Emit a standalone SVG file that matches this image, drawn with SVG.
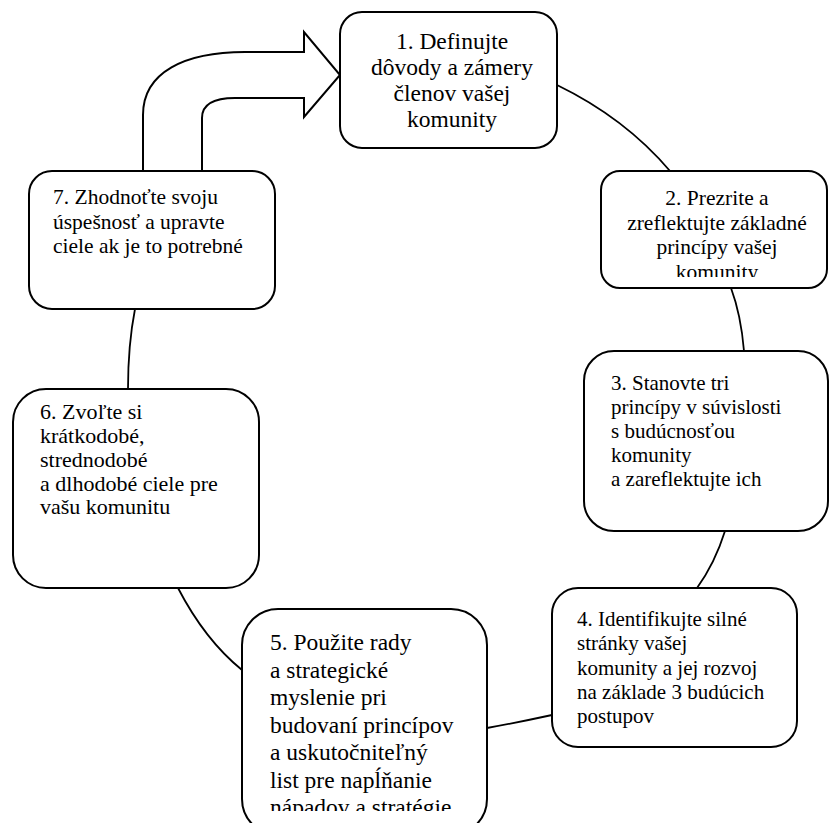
<svg xmlns="http://www.w3.org/2000/svg" width="830" height="823" viewBox="0 0 830 823">
<defs>
<style>
.box{fill:#fff;stroke:#000;stroke-width:2}
.con{fill:none;stroke:#000;stroke-width:1.8}
.t{font-family:"Liberation Serif","Times New Roman",serif;fill:#000;font-size:21px}
.c{text-anchor:middle}
</style>
<clipPath id="clip2"><rect x="600" y="170" width="230" height="107"/></clipPath>
<clipPath id="clip5"><rect x="240" y="608" width="250" height="203"/></clipPath>
</defs>
<rect width="830" height="823" fill="#fff"/>
<g id="connectors">
<path class="con" d="M557,85 Q625,118 670,171"/>
<path class="con" d="M731,288 Q741,315 744,351"/>
<path class="con" d="M725,531 Q715,563 697,588"/>
<path class="con" d="M552,715 Q520,722 487,728"/>
<path class="con" d="M178,588 Q205,640 242,670"/>
<path class="con" d="M135,309 Q128,345 128,389"/>
<path id="return-arrow" d="M143,171 L143,115 C143,72 185,52 245,52 L304,52 L304,32 L340,75 L304,117 L304,98 L235,98 C212,98 202,105 202,118 L202,171" fill="#fff" stroke="#000" stroke-width="2" stroke-linejoin="miter"/>
</g>
<g id="node1">
<rect class="box" x="340" y="12" width="217" height="136" rx="22" ry="22"/>
<text class="t c" style="font-size:23.5px"><tspan x="452" y="49">1. Definujte</tspan><tspan x="452" y="75">dôvody a zámery</tspan><tspan x="452" y="101">členov vašej</tspan><tspan x="452" y="127">komunity</tspan></text>
</g>
<g id="node2">
<rect class="box" x="601" y="171" width="226" height="117" rx="19" ry="19"/>
<g clip-path="url(#clip2)">
<text class="t c" style="font-size:21.5px"><tspan x="717" y="205">2. Prezrite a</tspan><tspan x="717" y="229.5">zreflektujte základné</tspan><tspan x="717" y="254">princípy vašej</tspan><tspan x="717" y="278.5">komunity</tspan></text>
</g>
</g>
<g id="node3">
<rect class="box" x="584" y="351" width="244" height="180" rx="30" ry="30"/>
<text class="t"><tspan x="611" y="390">3. Stanovte tri</tspan><tspan x="611" y="414">princípy v súvislosti</tspan><tspan x="611" y="438">s budúcnosťou</tspan><tspan x="611" y="462">komunity</tspan><tspan x="611" y="486">a zareflektujte ich</tspan></text>
</g>
<g id="node4">
<rect class="box" x="552" y="588" width="245" height="159" rx="26" ry="26"/>
<text class="t"><tspan x="577" y="626">4. Identifikujte silné</tspan><tspan x="577" y="650">stránky vašej</tspan><tspan x="577" y="674.5">komunity a jej rozvoj</tspan><tspan x="577" y="699">na základe 3 budúcich</tspan><tspan x="577" y="723">postupov</tspan></text>
</g>
<g id="node5">
<rect class="box" x="242" y="609" width="245" height="226" rx="36" ry="36"/>
<g clip-path="url(#clip5)">
<text class="t" style="font-size:23.5px"><tspan x="270" y="650">5. Použite rady</tspan><tspan x="270" y="677.5">a strategické</tspan><tspan x="270" y="705">myslenie pri</tspan><tspan x="270" y="732.5">budovaní princípov</tspan><tspan x="270" y="760">a uskutočniteľný</tspan><tspan x="270" y="787.5">list pre napĺňanie</tspan><tspan x="270" y="815">nápadov a stratégie</tspan></text>
</g>
</g>
<g id="node6">
<rect class="box" x="13" y="389" width="246" height="199" rx="33" ry="33"/>
<text class="t" style="font-size:22px"><tspan x="40" y="419">6. Zvoľte si</tspan><tspan x="40" y="443">krátkodobé,</tspan><tspan x="40" y="467">strednodobé</tspan><tspan x="40" y="491">a dlhodobé ciele pre</tspan><tspan x="40" y="514">vašu komunitu</tspan></text>
</g>
<g id="node7">
<rect class="box" x="29" y="171" width="246" height="138" rx="23" ry="23"/>
<text class="t" style="font-size:21.5px"><tspan x="53" y="204">7. Zhodnoťte svoju</tspan><tspan x="53" y="228.5">úspešnosť a upravte</tspan><tspan x="53" y="253">ciele ak je to potrebné</tspan></text>
</g>
</svg>
